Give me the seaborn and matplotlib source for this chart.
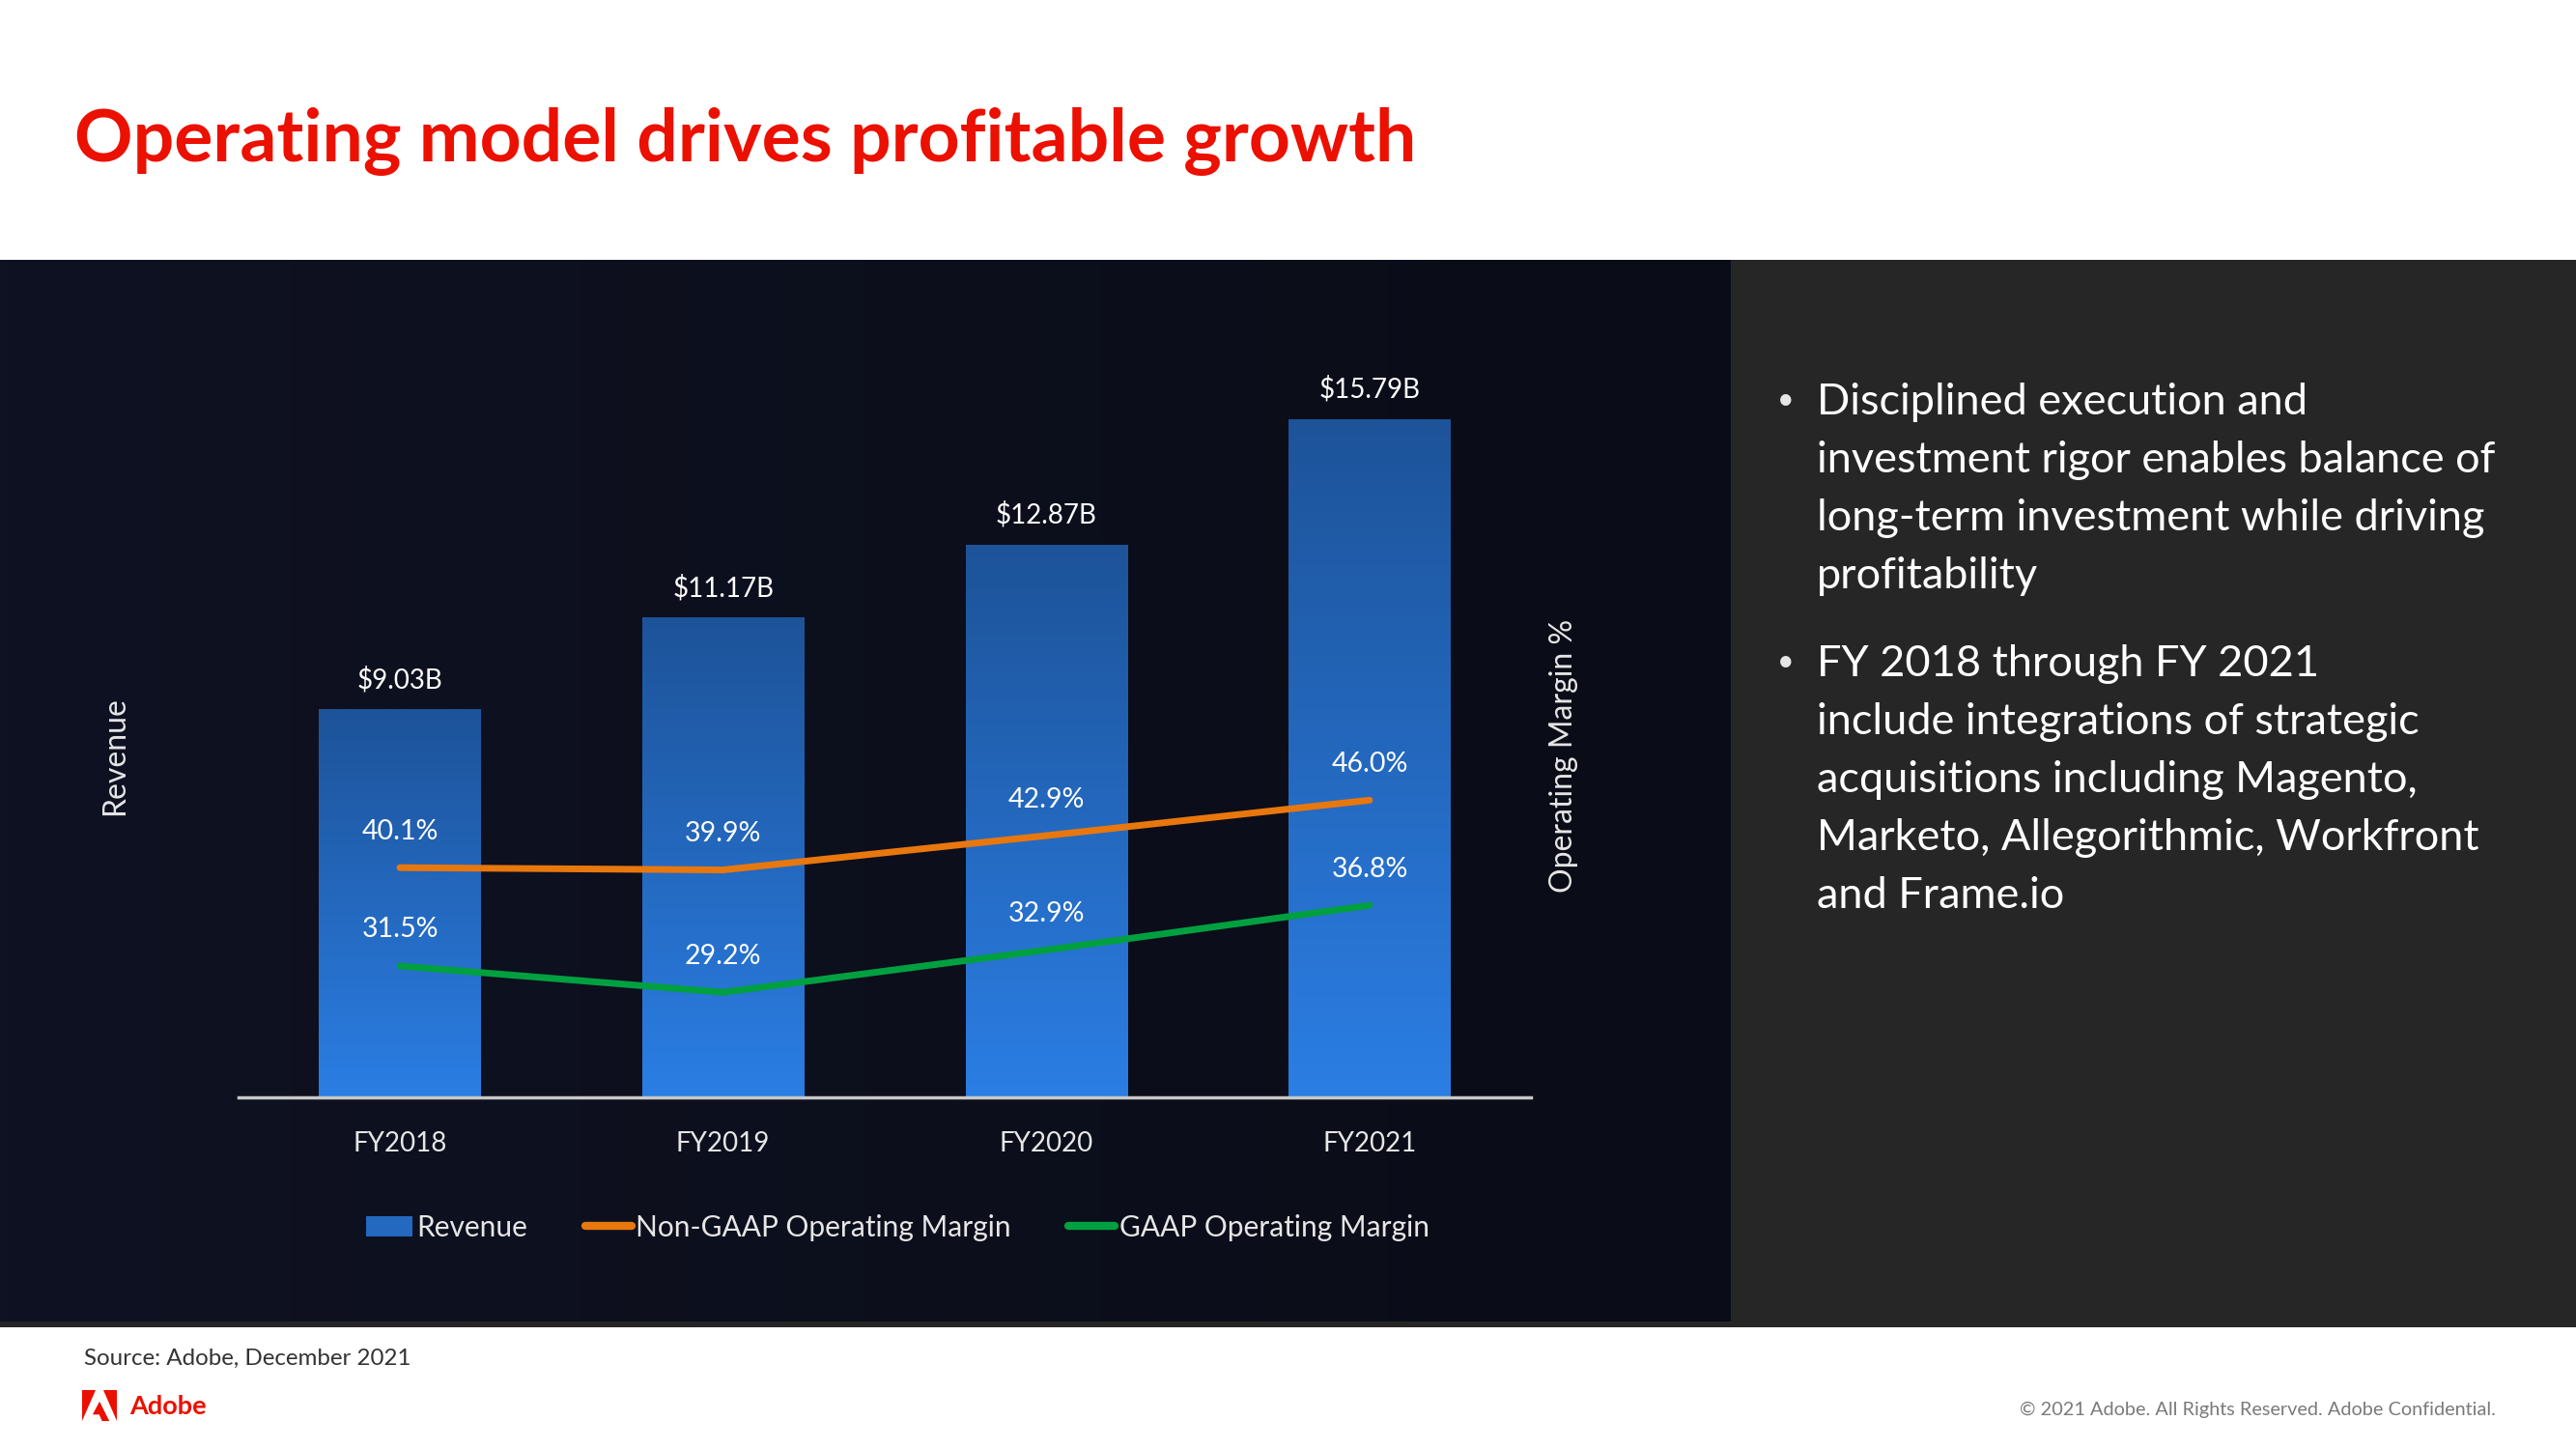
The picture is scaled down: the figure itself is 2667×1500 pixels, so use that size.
import numpy as np
import matplotlib
matplotlib.use("Agg")
import matplotlib.pyplot as plt
from matplotlib.patches import Rectangle, Polygon, Patch
from matplotlib.lines import Line2D
from matplotlib.colors import LinearSegmentedColormap
import seaborn as sns

# data
years = ["FY2018", "FY2019", "FY2020", "FY2021"]
revenue = [9.03, 11.17, 12.87, 15.79]            # $B
non_gaap_margin = [40.1, 39.9, 42.9, 46.0]       # %
gaap_margin = [31.5, 29.2, 32.9, 36.8]           # %

bullets = [
    ["Disciplined execution and",
     "investment rigor enables balance of",
     "long-term investment while driving",
     "profitability"],
    ["FY 2018 through FY 2021",
     "include integrations of strategic",
     "acquisitions including Magento,",
     "Marketo, Allegorithmic, Workfront",
     "and Frame.io"],
]

sns.set_theme(style="white")
FONT = ["Lato", "DejaVu Sans"]
plt.rcParams["font.family"] = FONT

RED = "#EB1000"
ORANGE = "#E8770E"
GREEN = "#00A040"
LIGHT = "#E6E6E6"

fig = plt.figure(figsize=(26.67, 15), dpi=100)
fig.patch.set_facecolor("white")

# background panels
fig.patches.append(Rectangle((0, 0.0840), 1, 0.7369, transform=fig.transFigure,
                             facecolor="#262626", edgecolor="none", zorder=-5))
bg_ax = fig.add_axes([0, 0.0880, 0.6716, 0.7329])
bg_ax.set_zorder(-1)
grad = np.linspace(0, 1, 256).reshape(1, -1)
bg_ax.imshow(grad, aspect="auto", extent=[0, 1, 0, 1],
             cmap=LinearSegmentedColormap.from_list("bg", ["#0f1222", "#0a0c17"]))
bg_ax.set_axis_off()

# main chart
ax = fig.add_axes([0.0925, 0.2426, 0.5019, 0.5306])
ax.patch.set_alpha(0)
sns.barplot(x=years, y=revenue, ax=ax, width=0.5, color="#2468c0", saturation=1)

bar_cmap = LinearSegmentedColormap.from_list("bar", ["#2b7ee4", "#1d5399"])
for p in ax.patches:
    x0, y0 = p.get_x(), p.get_y()
    w, h = p.get_width(), p.get_height()
    im = ax.imshow(np.linspace(0, 1, 256).reshape(-1, 1), aspect="auto",
                   extent=[x0, x0 + w, y0, y0 + h], origin="lower",
                   cmap=bar_cmap, zorder=1)
    im.set_clip_path(p)
    p.set_facecolor("none")
    p.set_edgecolor("none")
    p.set_linewidth(0)
ax.set_xlim(-0.5, 3.5)
ax.set_ylim(0, 17.89)

for i, v in enumerate(revenue):
    ax.annotate(f"${v:.2f}B", (i, v), xytext=(0, 22), textcoords="offset points",
                ha="center", va="center", color="white", fontsize=20)

ax2 = ax.twinx()
sns.lineplot(x=years, y=non_gaap_margin, ax=ax2, color=ORANGE, linewidth=5,
             sort=False, solid_capstyle="round")
sns.lineplot(x=years, y=gaap_margin, ax=ax2, color=GREEN, linewidth=5,
             sort=False, solid_capstyle="round")
ax2.set_ylim(20, 87.24)
for i, (a, b) in enumerate(zip(non_gaap_margin, gaap_margin)):
    ax2.annotate(f"{a:.1f}%", (i, a), xytext=(0, 27), textcoords="offset points",
                 ha="center", va="center", color="white", fontsize=20.5)
    ax2.annotate(f"{b:.1f}%", (i, b), xytext=(0, 27), textcoords="offset points",
                 ha="center", va="center", color="white", fontsize=20.5)

for a in (ax, ax2):
    for s in ("top", "left", "right"):
        a.spines[s].set_visible(False)
    a.set_yticks([])
    a.tick_params(axis="x", length=0)
ax2.spines["bottom"].set_visible(False)
ax.spines["bottom"].set_color("#c8c8c8")
ax.spines["bottom"].set_linewidth(2.5)
ax.tick_params(axis="x", colors=LIGHT, labelsize=20, pad=25)

ax.set_ylabel("Revenue", color=LIGHT, fontsize=23)
ax.yaxis.set_label_coords(-0.084, 0.444)
ax2.set_ylabel("Operating Margin %", color=LIGHT, fontsize=23, rotation=90)
ax2.yaxis.set_label_coords(1.014, 0.444)
ax.set_xlabel("")

handles = [Patch(facecolor="#2468c0", edgecolor="none"),
           Line2D([0], [0], color=ORANGE, linewidth=6, solid_capstyle="round"),
           Line2D([0], [0], color=GREEN, linewidth=6, solid_capstyle="round")]
leg = ax.legend(handles, ["Revenue", "Non-GAAP Operating Margin", "GAAP Operating Margin"],
                loc="center", bbox_to_anchor=(0.51, -0.169), ncol=3, frameon=False,
                fontsize=21.5, handlelength=1.6, handletextpad=0.15, columnspacing=2.0)
for t in leg.get_texts():
    t.set_color(LIGHT)

# title
fig.text(0.0287, 0.8889, "Operating model drives profitable growth", color=RED,
         fontsize=54, fontweight="bold", ha="left", va="baseline")

# right panel bullets
line_h = 0.0400
y = 1 - 252 / 882
for para in bullets:
    fig.text(0.6932, y + 0.004, "\u2022", color=LIGHT, fontsize=22, ha="center",
             va="baseline")
    for line in para:
        fig.text(0.7054, y, line, color="white", fontsize=32.5, va="baseline")
        y -= line_h
    y -= 0.0212

# footer
fig.text(0.0325, 0.0624, "Source: Adobe, December 2021", color="#333333",
         fontsize=17.4, va="center")
fig.text(0.9687, 0.0272, "\u00a9 2021 Adobe. All Rights Reserved. Adobe Confidential.",
         color="#7a7a7a", fontsize=14.3, ha="right", va="center")

# Adobe logo
lx, ly, lw, lh = 0.0319, 0.0193, 0.0135, 0.0214
shapes = [[(0, 0), (0, 1), (0.38, 1)],
          [(0.62, 1), (1, 1), (1, 0)],
          [(0.5, 0.63), (0.78, 0), (0.57, 0), (0.49, 0.21), (0.3, 0.21)]]
for s in shapes:
    fig.patches.append(Polygon([(lx + px * lw, ly + py * lh) for px, py in s],
                               closed=True, transform=fig.transFigure,
                               facecolor=RED, edgecolor="none"))
fig.text(0.0504, 0.0295, "Adobe", color=RED, fontsize=19.5, fontweight="bold", va="center")

fig.savefig("out.png", dpi=100)
